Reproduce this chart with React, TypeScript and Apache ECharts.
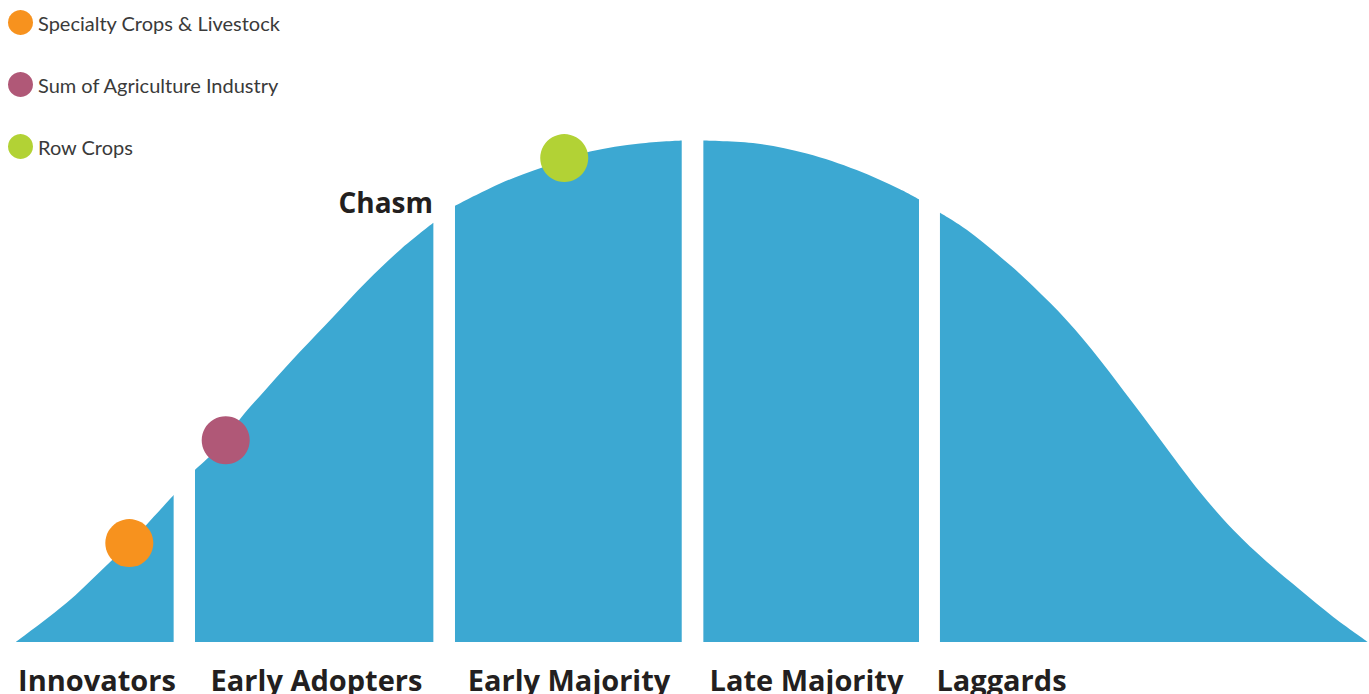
import React, { useEffect, useRef } from "react";
import * as echarts from "echarts";

// Bell curve (adoption curve) outline.
// x: 0..100 horizontal position, y: 0..100 relative height.
const curveX = [
  0, 3.75, 6.21, 8.38, 11.66, 13.24, 15.51, 16.57, 18.54, 21.0, 23.47, 25.94, 28.4, 30.87,
  32.47, 35.06, 37.52, 40.55, 42.46, 46.15, 49.24, 50.84, 54.78, 58.48, 62.18, 65.38, 66.79,
  68.34, 70.32, 73.52, 75.25, 77.71, 80.18, 82.64, 85.11, 87.57, 90.04, 92.51, 94.97, 97.43, 100,
];
const curveY = [
  0, 7.8, 14.0, 19.7, 29.3, 34.3, 40.2, 44.4, 50.5, 57.8, 64.8, 71.8, 78.1, 83.5,
  86.9, 90.4, 93.2, 95.9, 97.7, 99.3, 99.9, 99.9, 99.3, 97.3, 94.0, 90.2, 88.2,
  85.5, 82.1, 75.1, 70.8, 64.1, 56.2, 47.5, 38.6, 29.9, 22.3, 16.0, 10.4, 5.0, 0,
];

// Adopter segments (start / end on the x scale)
const segmentNames = ["Innovators", "Early Adopters", "Early Majority", "Late Majority", "Laggards"];
const segmentStart = [0, 13.24, 32.47, 50.84, 68.34];
const segmentEnd = [11.66, 30.87, 49.24, 66.79, 100];

// Markers
const markerNames = ["Specialty Crops & Livestock", "Sum of Agriculture Industry", "Row Crops"];
const markerX = [8.38, 15.51, 40.55];
const markerY = [19.7, 40.2, 96.4];
const markerColors = ["#F7921E", "#B05877", "#B2D235"];

const chasmLabel = "Chasm";

const BLUE = "#3CA8D2";
const TEXT = "#231F20";

export default function App() {
  const ref = useRef<HTMLDivElement>(null);

  useEffect(() => {
    if (!ref.current) return;
    document.body.style.margin = "0";
    const chart = echarts.init(ref.current, undefined, { renderer: "svg" });

    const segmentSeries = segmentNames.map((name, i) => {
      const data: number[][] = [];
      for (let k = 0; k < curveX.length; k++) {
        if (curveX[k] >= segmentStart[i] - 1e-9 && curveX[k] <= segmentEnd[i] + 1e-9) {
          data.push([curveX[k], curveY[k]]);
        }
      }
      return {
        type: "line",
        name,
        data,
        smooth: 0.35,
        showSymbol: false,
        symbol: "none",
        silent: true,
        lineStyle: { width: 0, color: BLUE },
        itemStyle: { color: BLUE },
        areaStyle: { color: BLUE, opacity: 1 },
        z: 1,
      };
    });

    const markerSeries = markerNames.map((name, i) => ({
      type: "scatter",
      name,
      data: [[markerX[i], markerY[i]]],
      symbol: "circle",
      symbolSize: 48,
      itemStyle: { color: markerColors[i], opacity: 1 },
      silent: true,
      z: 5,
    }));

    // label centres (pixel layout)
    const labelCenters = [97, 316.5, 569, 806.5, 1001.5];

    chart.setOption({
      animation: false,
      backgroundColor: "#ffffff",
      grid: { left: 16, right: 1, top: 140, bottom: 52, containLabel: false },
      xAxis: { type: "value", min: 0, max: 100, show: false },
      yAxis: { type: "value", min: 0, max: 100, show: false },
      legend: {
        data: markerNames,
        orient: "vertical",
        left: 8,
        top: 10,
        padding: 0,
        icon: "circle",
        itemWidth: 25,
        itemHeight: 25,
        itemGap: 37,
        selectedMode: false,
        textStyle: {
          fontFamily: "Lato",
          fontSize: 20,
          color: "#3A3A3A",
          padding: [4, 0, 0, 0],
        },
      },
      tooltip: { show: false },
      series: [...segmentSeries, ...markerSeries],
      graphic: [
        {
          type: "text",
          x: 433,
          y: 202,
          style: {
            text: chasmLabel,
            fontFamily: "Open Sans",
            fontWeight: "bold",
            fontSize: 28,
            fill: TEXT,
            textAlign: "right",
            textVerticalAlign: "middle",
          },
        },
        ...segmentNames.map((name, i) => ({
          type: "text",
          x: labelCenters[i],
          y: 679,
          style: {
            text: name,
            fontFamily: "Open Sans",
            fontWeight: "bold",
            fontSize: 29,
            fill: TEXT,
            textAlign: "center",
            textVerticalAlign: "middle",
          },
        })),
      ],
    });

    return () => chart.dispose();
  }, []);

  return <div ref={ref} style={{ width: 1369, height: 694, background: "#fff" }} />;
}
